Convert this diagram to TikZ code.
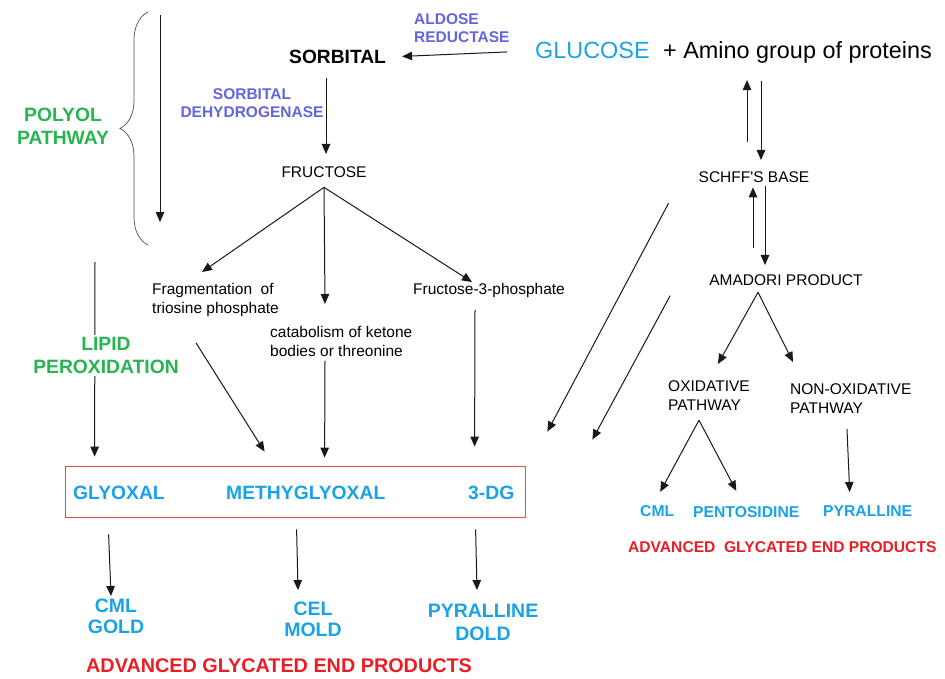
\documentclass[tikz,border=0pt]{standalone}
\usepackage{fontspec}
\setmainfont{Liberation Sans}[Ligatures=TeXOff]
\usetikzlibrary{arrows.meta,calc,decorations.pathreplacing}
\definecolor{ageblue}{RGB}{25,163,230}
\definecolor{enzpurple}{RGB}{100,100,220}
\definecolor{pathgreen}{RGB}{40,180,80}
\definecolor{agered}{RGB}{235,28,36}
\definecolor{boxred}{RGB}{235,70,75}

\begin{document}
\begin{tikzpicture}[x=1pt,y=-1pt,
    arr/.style={-{Triangle[length=10pt,width=8.5pt]},line width=1pt,black!90},
    lbl/.style={inner sep=0pt,font=\fontsize{15.5}{19}\selectfont},
    enzyme/.style={inner sep=0pt,text=enzpurple,font=\bfseries\fontsize{15.5}{18}\selectfont},
    pathway/.style={inner sep=0pt,text=pathgreen,font=\bfseries\fontsize{19.3}{23}\selectfont,align=center},
    dicarb/.style={inner sep=0pt,text=ageblue,font=\bfseries\fontsize{19.3}{23}\selectfont},
    ageprod/.style={inner sep=0pt,text=ageblue,font=\bfseries\fontsize{19.5}{21}\selectfont,align=center},
    agesmall/.style={inner sep=0pt,text=ageblue,font=\bfseries\fontsize{15.7}{19}\selectfont},
    agetitle/.style={inner sep=0pt,text=agered,font=\bfseries\fontsize{19.8}{22}\selectfont}]
    \useasboundingbox (0,0) rectangle (945,678);

    % polyol pathway
    \node[anchor=base west,inner sep=0pt,font=\bfseries\fontsize{19.2}{22}\selectfont] (sorbital) at (289,63) {SORBITAL};
    \node[enzyme,anchor=north west,align=left] (aldose) at (414,13) {ALDOSE\\REDUCTASE};
    \node[anchor=base west,inner sep=0pt,text=ageblue,font=\fontsize{23.4}{27}\selectfont] (glucose) at (535,58) {GLUCOSE};
    \node[anchor=base west,inner sep=0pt,font=\fontsize{23.4}{27}\selectfont] (amino) at (663,58) {+ Amino group of proteins};
    \node[enzyme,anchor=north,align=center] (sdh) at (252,88) {SORBITAL\\DEHYDROGENASE};
    \node[pathway,anchor=north] (polyol) at (63,108) {POLYOL\\PATHWAY};
    \node[lbl,anchor=base] (fructose) at (324,177) {FRUCTOSE};
    \node[lbl,anchor=north west,align=left] (frag) at (152,283) {Fragmentation\ \ of\\triosine phosphate};
    \node[lbl,anchor=north west,align=left] (catab) at (270,326) {catabolism of ketone\\bodies or threonine};
    \node[lbl,anchor=north west] (f3p) at (413,283) {Fructose-3-phosphate};

    \draw[decorate,decoration={brace,amplitude=28pt},line width=0.7pt,black!70] (148,245) -- (148,12);
    \coordinate (polytop) at (160,15);
    \coordinate (polybot) at (160,222);
    \draw[arr] (polytop) -- (polybot);

    \draw[arr] ($(glucose.west)+(-28,2)$) -- ($(sorbital.east)+(16,0)$);
    \draw[arr] ($(sorbital.south -| fructose.north)+(2,15)$) -- ($(fructose.north)+(2,-12)$);
    \draw[arr] ($(fructose.south)+(0,10)$) -- ($(frag.north west)+(50,-11)$);
    \draw[arr] ($(fructose.south)+(0,10)$) -- ($(catab.north west)+(55,-22)$);
    \draw[arr] ($(fructose.south)+(0,10)$) -- ($(f3p.north west)+(59,-1)$);

    % dicarbonyls
    \node[draw=boxred,line width=0.8pt,minimum width=460pt,minimum height=51pt,inner sep=0pt] (agebox) at (295,491.5) {};
    \node[dicarb,anchor=base west] (glyoxal) at (73,499) {GLYOXAL};
    \node[dicarb,anchor=base west] (methyl) at (226,499) {METHYGLYOXAL};
    \node[dicarb,anchor=base west] (dg) at (468,499) {3-DG};

    \draw[arr] ($(frag.south west)+(44,26)$) -- ($(agebox.north west)+(200,-14)$);
    \draw[arr] ($(catab.south west)+(55,4)$) -- ($(agebox.north west)+(260,-8)$);
    \draw[arr] ($(f3p.south west)+(62,12)$) -- ($(agebox.north west)+(410,-19)$);

    \coordinate (lipidtop) at (95,262);
    \draw[arr] (lipidtop) -- ($(agebox.north west)+(30,-9)$);
    \node[pathway,anchor=north,fill=white,inner sep=2pt] (lipid) at (106,335) {LIPID\\PEROXIDATION};

    % AGEs from dicarbonyls
    \node[ageprod,anchor=north] (cmlgold) at (116,599) {CML\\GOLD};
    \node[ageprod,anchor=north] (celmold) at (313,602) {CEL\\MOLD};
    \node[ageprod,anchor=north,font=\bfseries\fontsize{19.5}{23}\selectfont] (pyrdold) at (483,604) {PYRALLINE\\DOLD};
    \node[agetitle,anchor=base west] (agesleft) at (86,672) {ADVANCED GLYCATED END PRODUCTS};

    \draw[arr] ($(agebox.south west)+(44,17)$) -- ($(cmlgold.north)+(-5,-3)$);
    \draw[arr] ($(agebox.south west)+(232,12)$) -- ($(celmold.north)+(-15,-12)$);
    \draw[arr] ($(agebox.south west)+(411,12)$) -- ($(pyrdold.north)+(-6,-14)$);

    % Maillard route
    \node[lbl,anchor=base] (schiff) at (754,182) {SCHFF'S BASE};
    \node[lbl,anchor=base] (amadori) at (786,285) {AMADORI PRODUCT};
    \node[lbl,anchor=north west,align=left] (oxid) at (668,380) {OXIDATIVE\\PATHWAY};
    \node[lbl,anchor=north west,align=left] (nonox) at (790,383) {NON-OXIDATIVE\\PATHWAY};
    \node[agesmall,anchor=base west] (cmlr) at (640,516) {CML};
    \node[agesmall,anchor=base west] (pento) at (693,517) {PENTOSIDINE};
    \node[agesmall,anchor=base west] (pyrr) at (823,516) {PYRALLINE};
    \node[agetitle,anchor=base west,font=\bfseries\fontsize{15.6}{19}\selectfont] (agesright) at (628,552) {ADVANCED\ \ GLYCATED END PRODUCTS};

    \draw[arr] ($(schiff.north)+(-7,-29)$) -- ($(amino.south west)+(84,17)$);
    \draw[arr] ($(amino.south west)+(98,18)$) -- ($(schiff.north)+(7,-11)$);
    \draw[arr] ($(amadori.north)+(-33,-26)$) -- ($(schiff.south)+(-1,5)$);
    \draw[arr] ($(schiff.south)+(11,4)$) -- ($(amadori.north)+(-21,-9)$);
    \draw[arr] ($(amadori.south)+(-28,7)$) -- ($(oxid.north west)+(50,-16)$);
    \draw[arr] ($(amadori.south)+(-28,7)$) -- ($(nonox.north west)+(3,-21)$);
    \draw[arr] ($(oxid.south west)+(31,10)$) -- ($(cmlr.north)+(3,-13)$);
    \draw[arr] ($(oxid.south west)+(31,10)$) -- ($(pento.north)+(-10,-15)$);
    \draw[arr] ($(nonox.south west)+(57,16)$) -- ($(pyrr.north)+(-18,-13)$);

    \draw[arr] ($(schiff.south west)+(-30,21)$) -- ($(agebox.north east)+(22,-34)$);
    \draw[arr] ($(amadori.west)+(-39,16)$) -- ($(agebox.north east)+(67,-26)$);
\end{tikzpicture}
\end{document}
